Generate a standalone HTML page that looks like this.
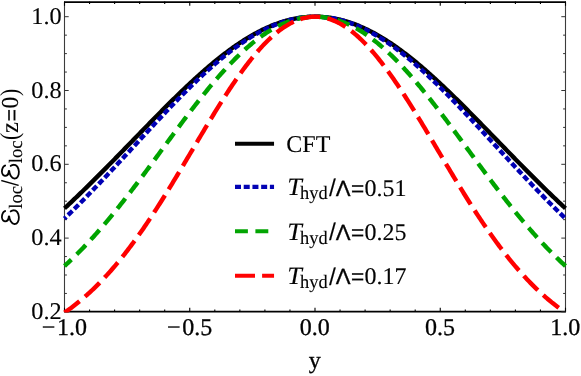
<!DOCTYPE html>
<html><head><meta charset="utf-8"><title>plot</title>
<style>
html,body{margin:0;padding:0;background:#fff;}
body{width:581px;height:376px;overflow:hidden;}
svg{display:block;}
text{font-family:"Liberation Serif",serif;font-size:24px;fill:#000;text-rendering:geometricPrecision;stroke:#000;stroke-width:0.12px;}
.sans{font-family:"Liberation Sans",sans-serif;font-size:22px;stroke-width:0.3px;}
.sub{font-size:19px;}
.it{font-style:italic;}
</style></head><body>
<svg width="581" height="376" viewBox="0 0 581 376">
<rect width="581" height="376" fill="#fff"/>
<defs><clipPath id="cp"><rect x="62.3" y="1.6" width="505.4" height="310.9"/></clipPath></defs>
<!-- frame -->
<g stroke="#000" stroke-width="1.75" fill="none">
<line x1="64.0" x2="566.0" y1="2.0500000000000003" y2="2.0500000000000003"/>
<line x1="64.0" x2="566.0" y1="311.5" y2="311.5"/>
</g>
<g stroke="#3c3c3c" stroke-width="1.1" fill="none">
<line x1="64.5" x2="64.5" y1="1.6" y2="311.9"/>
<line x1="565.5" x2="565.5" y1="1.6" y2="311.9"/>
</g>
<g stroke="#000" stroke-width="1.1">
<line x1="64.50" x2="64.50" y1="311.9" y2="307.7"/>
<line x1="64.50" x2="64.50" y1="1.6" y2="5.800000000000001"/>
<line x1="89.55" x2="89.55" y1="311.9" y2="309.5"/>
<line x1="89.55" x2="89.55" y1="1.6" y2="4.0"/>
<line x1="114.60" x2="114.60" y1="311.9" y2="309.5"/>
<line x1="114.60" x2="114.60" y1="1.6" y2="4.0"/>
<line x1="139.65" x2="139.65" y1="311.9" y2="309.5"/>
<line x1="139.65" x2="139.65" y1="1.6" y2="4.0"/>
<line x1="164.70" x2="164.70" y1="311.9" y2="309.5"/>
<line x1="164.70" x2="164.70" y1="1.6" y2="4.0"/>
<line x1="189.75" x2="189.75" y1="311.9" y2="307.7"/>
<line x1="189.75" x2="189.75" y1="1.6" y2="5.800000000000001"/>
<line x1="214.80" x2="214.80" y1="311.9" y2="309.5"/>
<line x1="214.80" x2="214.80" y1="1.6" y2="4.0"/>
<line x1="239.85" x2="239.85" y1="311.9" y2="309.5"/>
<line x1="239.85" x2="239.85" y1="1.6" y2="4.0"/>
<line x1="264.90" x2="264.90" y1="311.9" y2="309.5"/>
<line x1="264.90" x2="264.90" y1="1.6" y2="4.0"/>
<line x1="289.95" x2="289.95" y1="311.9" y2="309.5"/>
<line x1="289.95" x2="289.95" y1="1.6" y2="4.0"/>
<line x1="315.00" x2="315.00" y1="311.9" y2="307.7"/>
<line x1="315.00" x2="315.00" y1="1.6" y2="5.800000000000001"/>
<line x1="340.05" x2="340.05" y1="311.9" y2="309.5"/>
<line x1="340.05" x2="340.05" y1="1.6" y2="4.0"/>
<line x1="365.10" x2="365.10" y1="311.9" y2="309.5"/>
<line x1="365.10" x2="365.10" y1="1.6" y2="4.0"/>
<line x1="390.15" x2="390.15" y1="311.9" y2="309.5"/>
<line x1="390.15" x2="390.15" y1="1.6" y2="4.0"/>
<line x1="415.20" x2="415.20" y1="311.9" y2="309.5"/>
<line x1="415.20" x2="415.20" y1="1.6" y2="4.0"/>
<line x1="440.25" x2="440.25" y1="311.9" y2="307.7"/>
<line x1="440.25" x2="440.25" y1="1.6" y2="5.800000000000001"/>
<line x1="465.30" x2="465.30" y1="311.9" y2="309.5"/>
<line x1="465.30" x2="465.30" y1="1.6" y2="4.0"/>
<line x1="490.35" x2="490.35" y1="311.9" y2="309.5"/>
<line x1="490.35" x2="490.35" y1="1.6" y2="4.0"/>
<line x1="515.40" x2="515.40" y1="311.9" y2="309.5"/>
<line x1="515.40" x2="515.40" y1="1.6" y2="4.0"/>
<line x1="540.45" x2="540.45" y1="311.9" y2="309.5"/>
<line x1="540.45" x2="540.45" y1="1.6" y2="4.0"/>
<line x1="565.50" x2="565.50" y1="311.9" y2="307.7"/>
<line x1="565.50" x2="565.50" y1="1.6" y2="5.800000000000001"/>
</g>
<g stroke="#333" stroke-width="1">
<line y1="311.90" y2="311.90" x1="64.5" x2="68.7"/>
<line y1="311.90" y2="311.90" x1="565.5" x2="561.3"/>
<line y1="293.45" y2="293.45" x1="64.5" x2="66.9"/>
<line y1="293.45" y2="293.45" x1="565.5" x2="563.1"/>
<line y1="275.00" y2="275.00" x1="64.5" x2="66.9"/>
<line y1="275.00" y2="275.00" x1="565.5" x2="563.1"/>
<line y1="256.55" y2="256.55" x1="64.5" x2="66.9"/>
<line y1="256.55" y2="256.55" x1="565.5" x2="563.1"/>
<line y1="238.10" y2="238.10" x1="64.5" x2="68.7"/>
<line y1="238.10" y2="238.10" x1="565.5" x2="561.3"/>
<line y1="219.65" y2="219.65" x1="64.5" x2="66.9"/>
<line y1="219.65" y2="219.65" x1="565.5" x2="563.1"/>
<line y1="201.20" y2="201.20" x1="64.5" x2="66.9"/>
<line y1="201.20" y2="201.20" x1="565.5" x2="563.1"/>
<line y1="182.75" y2="182.75" x1="64.5" x2="66.9"/>
<line y1="182.75" y2="182.75" x1="565.5" x2="563.1"/>
<line y1="164.30" y2="164.30" x1="64.5" x2="68.7"/>
<line y1="164.30" y2="164.30" x1="565.5" x2="561.3"/>
<line y1="145.85" y2="145.85" x1="64.5" x2="66.9"/>
<line y1="145.85" y2="145.85" x1="565.5" x2="563.1"/>
<line y1="127.40" y2="127.40" x1="64.5" x2="66.9"/>
<line y1="127.40" y2="127.40" x1="565.5" x2="563.1"/>
<line y1="108.95" y2="108.95" x1="64.5" x2="66.9"/>
<line y1="108.95" y2="108.95" x1="565.5" x2="563.1"/>
<line y1="90.50" y2="90.50" x1="64.5" x2="68.7"/>
<line y1="90.50" y2="90.50" x1="565.5" x2="561.3"/>
<line y1="72.05" y2="72.05" x1="64.5" x2="66.9"/>
<line y1="72.05" y2="72.05" x1="565.5" x2="563.1"/>
<line y1="53.60" y2="53.60" x1="64.5" x2="66.9"/>
<line y1="53.60" y2="53.60" x1="565.5" x2="563.1"/>
<line y1="35.15" y2="35.15" x1="64.5" x2="66.9"/>
<line y1="35.15" y2="35.15" x1="565.5" x2="563.1"/>
<line y1="16.70" y2="16.70" x1="64.5" x2="68.7"/>
<line y1="16.70" y2="16.70" x1="565.5" x2="561.3"/>
</g>
<g clip-path="url(#cp)" fill="none" stroke-width="4.4" stroke-linejoin="round">
<path d="M64.50,208.40 L65.75,207.24 L67.00,206.06 L68.26,204.89 L69.51,203.71 L70.76,202.53 L72.02,201.35 L73.27,200.16 L74.52,198.96 L75.77,197.77 L77.03,196.57 L78.28,195.36 L79.53,194.15 L80.78,192.94 L82.04,191.73 L83.29,190.51 L84.54,189.29 L85.79,188.07 L87.04,186.84 L88.30,185.61 L89.55,184.38 L90.80,183.14 L92.05,181.90 L93.31,180.66 L94.56,179.41 L95.81,178.17 L97.06,176.92 L98.32,175.66 L99.57,174.41 L100.82,173.15 L102.08,171.89 L103.33,170.63 L104.58,169.36 L105.83,168.10 L107.09,166.83 L108.34,165.56 L109.59,164.29 L110.84,163.01 L112.09,161.74 L113.35,160.46 L114.60,159.18 L115.85,157.90 L117.10,156.62 L118.36,155.33 L119.61,154.05 L120.86,152.76 L122.11,151.48 L123.37,150.19 L124.62,148.90 L125.87,147.61 L127.12,146.33 L128.38,145.04 L129.63,143.75 L130.88,142.45 L132.13,141.16 L133.39,139.87 L134.64,138.58 L135.89,137.29 L137.15,136.00 L138.40,134.71 L139.65,133.42 L140.90,132.13 L142.16,130.84 L143.41,129.56 L144.66,128.27 L145.91,126.98 L147.17,125.70 L148.42,124.42 L149.67,123.13 L150.92,121.85 L152.18,120.57 L153.43,119.30 L154.68,118.02 L155.93,116.75 L157.19,115.48 L158.44,114.21 L159.69,112.94 L160.94,111.68 L162.19,110.41 L163.45,109.15 L164.70,107.90 L165.95,106.65 L167.21,105.39 L168.46,104.15 L169.71,102.90 L170.96,101.66 L172.21,100.43 L173.47,99.19 L174.72,97.97 L175.97,96.74 L177.22,95.52 L178.48,94.30 L179.73,93.09 L180.98,91.88 L182.24,90.68 L183.49,89.48 L184.74,88.29 L185.99,87.10 L187.25,85.92 L188.50,84.74 L189.75,83.57 L191.00,82.41 L192.25,81.25 L193.51,80.09 L194.76,78.94 L196.01,77.80 L197.27,76.67 L198.52,75.54 L199.77,74.42 L201.02,73.30 L202.28,72.19 L203.53,71.09 L204.78,70.00 L206.03,68.91 L207.29,67.83 L208.54,66.76 L209.79,65.69 L211.04,64.64 L212.29,63.59 L213.55,62.55 L214.80,61.52 L216.05,60.50 L217.31,59.48 L218.56,58.48 L219.81,57.48 L221.06,56.49 L222.31,55.52 L223.57,54.55 L224.82,53.59 L226.07,52.64 L227.33,51.70 L228.58,50.77 L229.83,49.85 L231.08,48.94 L232.34,48.04 L233.59,47.15 L234.84,46.27 L236.09,45.40 L237.35,44.55 L238.60,43.70 L239.85,42.86 L241.10,42.04 L242.35,41.23 L243.61,40.42 L244.86,39.63 L246.11,38.85 L247.37,38.09 L248.62,37.33 L249.87,36.59 L251.12,35.86 L252.38,35.14 L253.63,34.43 L254.88,33.74 L256.13,33.06 L257.38,32.39 L258.64,31.73 L259.89,31.09 L261.14,30.46 L262.39,29.84 L263.65,29.24 L264.90,28.65 L266.15,28.07 L267.40,27.51 L268.66,26.95 L269.91,26.42 L271.16,25.89 L272.42,25.38 L273.67,24.89 L274.92,24.41 L276.17,23.94 L277.42,23.49 L278.68,23.05 L279.93,22.62 L281.18,22.21 L282.44,21.81 L283.69,21.43 L284.94,21.06 L286.19,20.71 L287.44,20.37 L288.70,20.05 L289.95,19.74 L291.20,19.44 L292.46,19.16 L293.71,18.90 L294.96,18.65 L296.21,18.41 L297.47,18.19 L298.72,17.99 L299.97,17.80 L301.22,17.62 L302.48,17.46 L303.73,17.32 L304.98,17.19 L306.23,17.07 L307.49,16.97 L308.74,16.89 L309.99,16.82 L311.24,16.77 L312.50,16.73 L313.75,16.71 L315.00,16.70 L316.25,16.71 L317.50,16.73 L318.76,16.77 L320.01,16.82 L321.26,16.89 L322.51,16.97 L323.77,17.07 L325.02,17.19 L326.27,17.32 L327.53,17.46 L328.78,17.62 L330.03,17.80 L331.28,17.99 L332.54,18.19 L333.79,18.41 L335.04,18.65 L336.29,18.90 L337.55,19.16 L338.80,19.44 L340.05,19.74 L341.30,20.05 L342.56,20.37 L343.81,20.71 L345.06,21.06 L346.31,21.43 L347.57,21.81 L348.82,22.21 L350.07,22.62 L351.32,23.05 L352.58,23.49 L353.83,23.94 L355.08,24.41 L356.33,24.89 L357.58,25.38 L358.84,25.89 L360.09,26.42 L361.34,26.95 L362.59,27.51 L363.85,28.07 L365.10,28.65 L366.35,29.24 L367.61,29.84 L368.86,30.46 L370.11,31.09 L371.36,31.73 L372.62,32.39 L373.87,33.06 L375.12,33.74 L376.37,34.43 L377.62,35.14 L378.88,35.86 L380.13,36.59 L381.38,37.33 L382.63,38.09 L383.89,38.85 L385.14,39.63 L386.39,40.42 L387.64,41.23 L388.90,42.04 L390.15,42.86 L391.40,43.70 L392.66,44.55 L393.91,45.40 L395.16,46.27 L396.41,47.15 L397.67,48.04 L398.92,48.94 L400.17,49.85 L401.42,50.77 L402.68,51.70 L403.93,52.64 L405.18,53.59 L406.43,54.55 L407.69,55.52 L408.94,56.49 L410.19,57.48 L411.44,58.48 L412.70,59.48 L413.95,60.50 L415.20,61.52 L416.45,62.55 L417.70,63.59 L418.96,64.64 L420.21,65.69 L421.46,66.76 L422.71,67.83 L423.97,68.91 L425.22,70.00 L426.47,71.09 L427.72,72.19 L428.98,73.30 L430.23,74.42 L431.48,75.54 L432.74,76.67 L433.99,77.80 L435.24,78.94 L436.49,80.09 L437.75,81.25 L439.00,82.41 L440.25,83.57 L441.50,84.74 L442.75,85.92 L444.01,87.10 L445.26,88.29 L446.51,89.48 L447.76,90.68 L449.02,91.88 L450.27,93.09 L451.52,94.30 L452.78,95.52 L454.03,96.74 L455.28,97.97 L456.53,99.19 L457.79,100.43 L459.04,101.66 L460.29,102.90 L461.54,104.15 L462.80,105.39 L464.05,106.65 L465.30,107.90 L466.55,109.15 L467.81,110.41 L469.06,111.68 L470.31,112.94 L471.56,114.21 L472.82,115.48 L474.07,116.75 L475.32,118.02 L476.57,119.30 L477.83,120.57 L479.08,121.85 L480.33,123.13 L481.58,124.42 L482.83,125.70 L484.09,126.98 L485.34,128.27 L486.59,129.56 L487.84,130.84 L489.10,132.13 L490.35,133.42 L491.60,134.71 L492.86,136.00 L494.11,137.29 L495.36,138.58 L496.61,139.87 L497.87,141.16 L499.12,142.45 L500.37,143.75 L501.62,145.04 L502.88,146.33 L504.13,147.61 L505.38,148.90 L506.63,150.19 L507.88,151.48 L509.14,152.76 L510.39,154.05 L511.64,155.33 L512.89,156.62 L514.15,157.90 L515.40,159.18 L516.65,160.46 L517.90,161.74 L519.16,163.01 L520.41,164.29 L521.66,165.56 L522.91,166.83 L524.17,168.10 L525.42,169.36 L526.67,170.63 L527.92,171.89 L529.18,173.15 L530.43,174.41 L531.68,175.66 L532.93,176.92 L534.19,178.17 L535.44,179.41 L536.69,180.66 L537.95,181.90 L539.20,183.14 L540.45,184.38 L541.70,185.61 L542.96,186.84 L544.21,188.07 L545.46,189.29 L546.71,190.51 L547.96,191.73 L549.22,192.94 L550.47,194.15 L551.72,195.36 L552.97,196.57 L554.23,197.77 L555.48,198.96 L556.73,200.16 L557.99,201.35 L559.24,202.53 L560.49,203.71 L561.74,204.89 L563.00,206.06 L564.25,207.24 L565.50,208.40" stroke="#000"/>
<path d="M64.50,218.56 L65.75,217.35 L67.00,216.13 L68.26,214.91 L69.51,213.69 L70.76,212.46 L72.02,211.23 L73.27,209.99 L74.52,208.75 L75.77,207.50 L77.03,206.25 L78.28,205.00 L79.53,203.74 L80.78,202.48 L82.04,201.21 L83.29,199.94 L84.54,198.67 L85.79,197.39 L87.04,196.11 L88.30,194.82 L89.55,193.53 L90.80,192.24 L92.05,190.95 L93.31,189.65 L94.56,188.35 L95.81,187.04 L97.06,185.73 L98.32,184.42 L99.57,183.11 L100.82,181.79 L102.08,180.47 L103.33,179.15 L104.58,177.83 L105.83,176.50 L107.09,175.17 L108.34,173.84 L109.59,172.50 L110.84,171.17 L112.09,169.83 L113.35,168.49 L114.60,167.15 L115.85,165.80 L117.10,164.46 L118.36,163.11 L119.61,161.76 L120.86,160.41 L122.11,159.06 L123.37,157.71 L124.62,156.35 L125.87,155.00 L127.12,153.64 L128.38,152.29 L129.63,150.93 L130.88,149.57 L132.13,148.22 L133.39,146.86 L134.64,145.50 L135.89,144.14 L137.15,142.78 L138.40,141.43 L139.65,140.07 L140.90,138.71 L142.16,137.35 L143.41,136.00 L144.66,134.64 L145.91,133.29 L147.17,131.93 L148.42,130.58 L149.67,129.23 L150.92,127.88 L152.18,126.53 L153.43,125.18 L154.68,123.84 L155.93,122.49 L157.19,121.15 L158.44,119.81 L159.69,118.48 L160.94,117.14 L162.19,115.81 L163.45,114.48 L164.70,113.16 L165.95,111.83 L167.21,110.51 L168.46,109.20 L169.71,107.88 L170.96,106.57 L172.21,105.27 L173.47,103.97 L174.72,102.67 L175.97,101.37 L177.22,100.09 L178.48,98.80 L179.73,97.52 L180.98,96.24 L182.24,94.97 L183.49,93.71 L184.74,92.45 L185.99,91.19 L187.25,89.94 L188.50,88.70 L189.75,87.46 L191.00,86.23 L192.25,85.00 L193.51,83.78 L194.76,82.57 L196.01,81.36 L197.27,80.16 L198.52,78.96 L199.77,77.78 L201.02,76.60 L202.28,75.43 L203.53,74.26 L204.78,73.10 L206.03,71.95 L207.29,70.81 L208.54,69.68 L209.79,68.55 L211.04,67.44 L212.29,66.33 L213.55,65.23 L214.80,64.14 L216.05,63.06 L217.31,61.98 L218.56,60.92 L219.81,59.87 L221.06,58.82 L222.31,57.79 L223.57,56.76 L224.82,55.75 L226.07,54.74 L227.33,53.75 L228.58,52.76 L229.83,51.79 L231.08,50.83 L232.34,49.87 L233.59,48.93 L234.84,48.00 L236.09,47.08 L237.35,46.18 L238.60,45.28 L239.85,44.39 L241.10,43.52 L242.35,42.66 L243.61,41.81 L244.86,40.98 L246.11,40.15 L247.37,39.34 L248.62,38.54 L249.87,37.75 L251.12,36.98 L252.38,36.22 L253.63,35.47 L254.88,34.74 L256.13,34.02 L257.38,33.31 L258.64,32.61 L259.89,31.93 L261.14,31.27 L262.39,30.61 L263.65,29.97 L264.90,29.35 L266.15,28.74 L267.40,28.14 L268.66,27.56 L269.91,26.99 L271.16,26.43 L272.42,25.89 L273.67,25.37 L274.92,24.86 L276.17,24.36 L277.42,23.88 L278.68,23.42 L279.93,22.97 L281.18,22.53 L282.44,22.11 L283.69,21.71 L284.94,21.32 L286.19,20.94 L287.44,20.59 L288.70,20.24 L289.95,19.91 L291.20,19.60 L292.46,19.31 L293.71,19.03 L294.96,18.76 L296.21,18.51 L297.47,18.28 L298.72,18.06 L299.97,17.86 L301.22,17.68 L302.48,17.51 L303.73,17.35 L304.98,17.22 L306.23,17.10 L307.49,16.99 L308.74,16.90 L309.99,16.83 L311.24,16.77 L312.50,16.73 L313.75,16.71 L315.00,16.70 L316.25,16.71 L317.50,16.73 L318.76,16.77 L320.01,16.83 L321.26,16.90 L322.51,16.99 L323.77,17.10 L325.02,17.22 L326.27,17.35 L327.53,17.51 L328.78,17.68 L330.03,17.86 L331.28,18.06 L332.54,18.28 L333.79,18.51 L335.04,18.76 L336.29,19.03 L337.55,19.31 L338.80,19.60 L340.05,19.91 L341.30,20.24 L342.56,20.59 L343.81,20.94 L345.06,21.32 L346.31,21.71 L347.57,22.11 L348.82,22.53 L350.07,22.97 L351.32,23.42 L352.58,23.88 L353.83,24.36 L355.08,24.86 L356.33,25.37 L357.58,25.89 L358.84,26.43 L360.09,26.99 L361.34,27.56 L362.59,28.14 L363.85,28.74 L365.10,29.35 L366.35,29.97 L367.61,30.61 L368.86,31.27 L370.11,31.93 L371.36,32.61 L372.62,33.31 L373.87,34.02 L375.12,34.74 L376.37,35.47 L377.62,36.22 L378.88,36.98 L380.13,37.75 L381.38,38.54 L382.63,39.34 L383.89,40.15 L385.14,40.98 L386.39,41.81 L387.64,42.66 L388.90,43.52 L390.15,44.39 L391.40,45.28 L392.66,46.18 L393.91,47.08 L395.16,48.00 L396.41,48.93 L397.67,49.87 L398.92,50.83 L400.17,51.79 L401.42,52.76 L402.68,53.75 L403.93,54.74 L405.18,55.75 L406.43,56.76 L407.69,57.79 L408.94,58.82 L410.19,59.87 L411.44,60.92 L412.70,61.98 L413.95,63.06 L415.20,64.14 L416.45,65.23 L417.70,66.33 L418.96,67.44 L420.21,68.55 L421.46,69.68 L422.71,70.81 L423.97,71.95 L425.22,73.10 L426.47,74.26 L427.72,75.43 L428.98,76.60 L430.23,77.78 L431.48,78.96 L432.74,80.16 L433.99,81.36 L435.24,82.57 L436.49,83.78 L437.75,85.00 L439.00,86.23 L440.25,87.46 L441.50,88.70 L442.75,89.94 L444.01,91.19 L445.26,92.45 L446.51,93.71 L447.76,94.97 L449.02,96.24 L450.27,97.52 L451.52,98.80 L452.78,100.09 L454.03,101.37 L455.28,102.67 L456.53,103.97 L457.79,105.27 L459.04,106.57 L460.29,107.88 L461.54,109.20 L462.80,110.51 L464.05,111.83 L465.30,113.16 L466.55,114.48 L467.81,115.81 L469.06,117.14 L470.31,118.48 L471.56,119.81 L472.82,121.15 L474.07,122.49 L475.32,123.84 L476.57,125.18 L477.83,126.53 L479.08,127.88 L480.33,129.23 L481.58,130.58 L482.83,131.93 L484.09,133.29 L485.34,134.64 L486.59,136.00 L487.84,137.35 L489.10,138.71 L490.35,140.07 L491.60,141.43 L492.86,142.78 L494.11,144.14 L495.36,145.50 L496.61,146.86 L497.87,148.22 L499.12,149.57 L500.37,150.93 L501.62,152.29 L502.88,153.64 L504.13,155.00 L505.38,156.35 L506.63,157.71 L507.88,159.06 L509.14,160.41 L510.39,161.76 L511.64,163.11 L512.89,164.46 L514.15,165.80 L515.40,167.15 L516.65,168.49 L517.90,169.83 L519.16,171.17 L520.41,172.50 L521.66,173.84 L522.91,175.17 L524.17,176.50 L525.42,177.83 L526.67,179.15 L527.92,180.47 L529.18,181.79 L530.43,183.11 L531.68,184.42 L532.93,185.73 L534.19,187.04 L535.44,188.35 L536.69,189.65 L537.95,190.95 L539.20,192.24 L540.45,193.53 L541.70,194.82 L542.96,196.11 L544.21,197.39 L545.46,198.67 L546.71,199.94 L547.96,201.21 L549.22,202.48 L550.47,203.74 L551.72,205.00 L552.97,206.25 L554.23,207.50 L555.48,208.75 L556.73,209.99 L557.99,211.23 L559.24,212.46 L560.49,213.69 L561.74,214.91 L563.00,216.13 L564.25,217.35 L565.50,218.56" stroke="#0000b4" stroke-dasharray="6 2.72" stroke-dashoffset="3.7"/>
<path d="M64.50,266.00 L65.75,264.86 L67.00,263.70 L68.26,262.53 L69.51,261.35 L70.76,260.16 L72.02,258.96 L73.27,257.75 L74.52,256.53 L75.77,255.30 L77.03,254.05 L78.28,252.80 L79.53,251.53 L80.78,250.26 L82.04,248.97 L83.29,247.67 L84.54,246.36 L85.79,245.05 L87.04,243.72 L88.30,242.38 L89.55,241.03 L90.80,239.67 L92.05,238.30 L93.31,236.92 L94.56,235.53 L95.81,234.13 L97.06,232.72 L98.32,231.30 L99.57,229.87 L100.82,228.43 L102.08,226.98 L103.33,225.53 L104.58,224.06 L105.83,222.58 L107.09,221.10 L108.34,219.60 L109.59,218.10 L110.84,216.59 L112.09,215.07 L113.35,213.54 L114.60,212.01 L115.85,210.46 L117.10,208.91 L118.36,207.35 L119.61,205.79 L120.86,204.21 L122.11,202.63 L123.37,201.04 L124.62,199.45 L125.87,197.84 L127.12,196.23 L128.38,194.62 L129.63,193.00 L130.88,191.37 L132.13,189.74 L133.39,188.10 L134.64,186.45 L135.89,184.80 L137.15,183.15 L138.40,181.49 L139.65,179.83 L140.90,178.16 L142.16,176.48 L143.41,174.81 L144.66,173.13 L145.91,171.44 L147.17,169.76 L148.42,168.07 L149.67,166.37 L150.92,164.68 L152.18,162.98 L153.43,161.28 L154.68,159.58 L155.93,157.88 L157.19,156.17 L158.44,154.47 L159.69,152.76 L160.94,151.06 L162.19,149.35 L163.45,147.64 L164.70,145.94 L165.95,144.23 L167.21,142.53 L168.46,140.82 L169.71,139.12 L170.96,137.42 L172.21,135.72 L173.47,134.02 L174.72,132.33 L175.97,130.63 L177.22,128.95 L178.48,127.26 L179.73,125.58 L180.98,123.90 L182.24,122.22 L183.49,120.55 L184.74,118.89 L185.99,117.23 L187.25,115.57 L188.50,113.92 L189.75,112.28 L191.00,110.64 L192.25,109.01 L193.51,107.38 L194.76,105.76 L196.01,104.15 L197.27,102.55 L198.52,100.95 L199.77,99.36 L201.02,97.78 L202.28,96.21 L203.53,94.65 L204.78,93.09 L206.03,91.55 L207.29,90.01 L208.54,88.48 L209.79,86.97 L211.04,85.46 L212.29,83.97 L213.55,82.49 L214.80,81.01 L216.05,79.55 L217.31,78.10 L218.56,76.66 L219.81,75.24 L221.06,73.83 L222.31,72.42 L223.57,71.04 L224.82,69.66 L226.07,68.30 L227.33,66.95 L228.58,65.62 L229.83,64.30 L231.08,62.99 L232.34,61.70 L233.59,60.42 L234.84,59.16 L236.09,57.91 L237.35,56.68 L238.60,55.46 L239.85,54.26 L241.10,53.08 L242.35,51.91 L243.61,50.76 L244.86,49.62 L246.11,48.50 L247.37,47.40 L248.62,46.32 L249.87,45.25 L251.12,44.20 L252.38,43.16 L253.63,42.15 L254.88,41.15 L256.13,40.17 L257.38,39.21 L258.64,38.27 L259.89,37.34 L261.14,36.44 L262.39,35.55 L263.65,34.68 L264.90,33.83 L266.15,33.00 L267.40,32.19 L268.66,31.40 L269.91,30.63 L271.16,29.88 L272.42,29.15 L273.67,28.44 L274.92,27.75 L276.17,27.07 L277.42,26.42 L278.68,25.79 L279.93,25.18 L281.18,24.59 L282.44,24.02 L283.69,23.48 L284.94,22.95 L286.19,22.44 L287.44,21.96 L288.70,21.49 L289.95,21.05 L291.20,20.63 L292.46,20.23 L293.71,19.85 L294.96,19.49 L296.21,19.15 L297.47,18.84 L298.72,18.54 L299.97,18.27 L301.22,18.02 L302.48,17.79 L303.73,17.58 L304.98,17.40 L306.23,17.24 L307.49,17.09 L308.74,16.97 L309.99,16.87 L311.24,16.80 L312.50,16.74 L313.75,16.71 L315.00,16.70 L316.25,16.71 L317.50,16.74 L318.76,16.80 L320.01,16.87 L321.26,16.97 L322.51,17.09 L323.77,17.24 L325.02,17.40 L326.27,17.58 L327.53,17.79 L328.78,18.02 L330.03,18.27 L331.28,18.54 L332.54,18.84 L333.79,19.15 L335.04,19.49 L336.29,19.85 L337.55,20.23 L338.80,20.63 L340.05,21.05 L341.30,21.49 L342.56,21.96 L343.81,22.44 L345.06,22.95 L346.31,23.48 L347.57,24.02 L348.82,24.59 L350.07,25.18 L351.32,25.79 L352.58,26.42 L353.83,27.07 L355.08,27.75 L356.33,28.44 L357.58,29.15 L358.84,29.88 L360.09,30.63 L361.34,31.40 L362.59,32.19 L363.85,33.00 L365.10,33.83 L366.35,34.68 L367.61,35.55 L368.86,36.44 L370.11,37.34 L371.36,38.27 L372.62,39.21 L373.87,40.17 L375.12,41.15 L376.37,42.15 L377.62,43.16 L378.88,44.20 L380.13,45.25 L381.38,46.32 L382.63,47.40 L383.89,48.50 L385.14,49.62 L386.39,50.76 L387.64,51.91 L388.90,53.08 L390.15,54.26 L391.40,55.46 L392.66,56.68 L393.91,57.91 L395.16,59.16 L396.41,60.42 L397.67,61.70 L398.92,62.99 L400.17,64.30 L401.42,65.62 L402.68,66.95 L403.93,68.30 L405.18,69.66 L406.43,71.04 L407.69,72.42 L408.94,73.83 L410.19,75.24 L411.44,76.66 L412.70,78.10 L413.95,79.55 L415.20,81.01 L416.45,82.49 L417.70,83.97 L418.96,85.46 L420.21,86.97 L421.46,88.48 L422.71,90.01 L423.97,91.55 L425.22,93.09 L426.47,94.65 L427.72,96.21 L428.98,97.78 L430.23,99.36 L431.48,100.95 L432.74,102.55 L433.99,104.15 L435.24,105.76 L436.49,107.38 L437.75,109.01 L439.00,110.64 L440.25,112.28 L441.50,113.92 L442.75,115.57 L444.01,117.23 L445.26,118.89 L446.51,120.55 L447.76,122.22 L449.02,123.90 L450.27,125.58 L451.52,127.26 L452.78,128.95 L454.03,130.63 L455.28,132.33 L456.53,134.02 L457.79,135.72 L459.04,137.42 L460.29,139.12 L461.54,140.82 L462.80,142.53 L464.05,144.23 L465.30,145.94 L466.55,147.64 L467.81,149.35 L469.06,151.06 L470.31,152.76 L471.56,154.47 L472.82,156.17 L474.07,157.88 L475.32,159.58 L476.57,161.28 L477.83,162.98 L479.08,164.68 L480.33,166.37 L481.58,168.07 L482.83,169.76 L484.09,171.44 L485.34,173.13 L486.59,174.81 L487.84,176.48 L489.10,178.16 L490.35,179.83 L491.60,181.49 L492.86,183.15 L494.11,184.80 L495.36,186.45 L496.61,188.10 L497.87,189.74 L499.12,191.37 L500.37,193.00 L501.62,194.62 L502.88,196.23 L504.13,197.84 L505.38,199.45 L506.63,201.04 L507.88,202.63 L509.14,204.21 L510.39,205.79 L511.64,207.35 L512.89,208.91 L514.15,210.46 L515.40,212.01 L516.65,213.54 L517.90,215.07 L519.16,216.59 L520.41,218.10 L521.66,219.60 L522.91,221.10 L524.17,222.58 L525.42,224.06 L526.67,225.53 L527.92,226.98 L529.18,228.43 L530.43,229.87 L531.68,231.30 L532.93,232.72 L534.19,234.13 L535.44,235.53 L536.69,236.92 L537.95,238.30 L539.20,239.67 L540.45,241.03 L541.70,242.38 L542.96,243.72 L544.21,245.05 L545.46,246.36 L546.71,247.67 L547.96,248.97 L549.22,250.26 L550.47,251.53 L551.72,252.80 L552.97,254.05 L554.23,255.30 L555.48,256.53 L556.73,257.75 L557.99,258.96 L559.24,260.16 L560.49,261.35 L561.74,262.53 L563.00,263.70 L564.25,264.86 L565.50,266.00" stroke="#00a400" stroke-dasharray="12.9 7.5" stroke-dashoffset="3.5"/>
<path d="M64.50,312.60 L65.75,311.74 L67.00,310.86 L68.26,309.97 L69.51,309.07 L70.76,308.15 L72.02,307.21 L73.27,306.27 L74.52,305.30 L75.77,304.33 L77.03,303.33 L78.28,302.33 L79.53,301.30 L80.78,300.27 L82.04,299.21 L83.29,298.15 L84.54,297.06 L85.79,295.96 L87.04,294.85 L88.30,293.72 L89.55,292.58 L90.80,291.42 L92.05,290.24 L93.31,289.05 L94.56,287.84 L95.81,286.62 L97.06,285.38 L98.32,284.12 L99.57,282.85 L100.82,281.56 L102.08,280.26 L103.33,278.94 L104.58,277.60 L105.83,276.25 L107.09,274.88 L108.34,273.50 L109.59,272.10 L110.84,270.68 L112.09,269.25 L113.35,267.80 L114.60,266.34 L115.85,264.86 L117.10,263.36 L118.36,261.85 L119.61,260.32 L120.86,258.78 L122.11,257.22 L123.37,255.64 L124.62,254.05 L125.87,252.44 L127.12,250.82 L128.38,249.18 L129.63,247.53 L130.88,245.86 L132.13,244.18 L133.39,242.48 L134.64,240.77 L135.89,239.04 L137.15,237.30 L138.40,235.55 L139.65,233.78 L140.90,231.99 L142.16,230.20 L143.41,228.38 L144.66,226.56 L145.91,224.72 L147.17,222.87 L148.42,221.01 L149.67,219.13 L150.92,217.24 L152.18,215.34 L153.43,213.43 L154.68,211.51 L155.93,209.57 L157.19,207.63 L158.44,205.67 L159.69,203.70 L160.94,201.73 L162.19,199.74 L163.45,197.74 L164.70,195.74 L165.95,193.72 L167.21,191.70 L168.46,189.67 L169.71,187.63 L170.96,185.58 L172.21,183.53 L173.47,181.47 L174.72,179.40 L175.97,177.33 L177.22,175.25 L178.48,173.17 L179.73,171.08 L180.98,168.98 L182.24,166.89 L183.49,164.79 L184.74,162.68 L185.99,160.58 L187.25,158.47 L188.50,156.36 L189.75,154.25 L191.00,152.13 L192.25,150.02 L193.51,147.91 L194.76,145.79 L196.01,143.68 L197.27,141.57 L198.52,139.46 L199.77,137.36 L201.02,135.25 L202.28,133.15 L203.53,131.06 L204.78,128.97 L206.03,126.88 L207.29,124.80 L208.54,122.72 L209.79,120.65 L211.04,118.59 L212.29,116.54 L213.55,114.49 L214.80,112.45 L216.05,110.42 L217.31,108.40 L218.56,106.39 L219.81,104.39 L221.06,102.40 L222.31,100.42 L223.57,98.46 L224.82,96.51 L226.07,94.57 L227.33,92.64 L228.58,90.73 L229.83,88.83 L231.08,86.94 L232.34,85.08 L233.59,83.22 L234.84,81.39 L236.09,79.57 L237.35,77.77 L238.60,75.99 L239.85,74.22 L241.10,72.48 L242.35,70.75 L243.61,69.04 L244.86,67.36 L246.11,65.69 L247.37,64.05 L248.62,62.43 L249.87,60.82 L251.12,59.25 L252.38,57.69 L253.63,56.16 L254.88,54.65 L256.13,53.17 L257.38,51.71 L258.64,50.27 L259.89,48.87 L261.14,47.48 L262.39,46.13 L263.65,44.80 L264.90,43.49 L266.15,42.22 L267.40,40.97 L268.66,39.75 L269.91,38.56 L271.16,37.39 L272.42,36.26 L273.67,35.16 L274.92,34.08 L276.17,33.04 L277.42,32.02 L278.68,31.04 L279.93,30.08 L281.18,29.16 L282.44,28.27 L283.69,27.41 L284.94,26.58 L286.19,25.78 L287.44,25.02 L288.70,24.29 L289.95,23.59 L291.20,22.92 L292.46,22.29 L293.71,21.69 L294.96,21.12 L296.21,20.59 L297.47,20.09 L298.72,19.63 L299.97,19.19 L301.22,18.80 L302.48,18.43 L303.73,18.11 L304.98,17.81 L306.23,17.55 L307.49,17.33 L308.74,17.13 L309.99,16.98 L311.24,16.86 L312.50,16.77 L313.75,16.72 L315.00,16.70 L316.25,16.72 L317.50,16.77 L318.76,16.86 L320.01,16.98 L321.26,17.13 L322.51,17.33 L323.77,17.55 L325.02,17.81 L326.27,18.11 L327.53,18.43 L328.78,18.80 L330.03,19.19 L331.28,19.63 L332.54,20.09 L333.79,20.59 L335.04,21.12 L336.29,21.69 L337.55,22.29 L338.80,22.92 L340.05,23.59 L341.30,24.29 L342.56,25.02 L343.81,25.78 L345.06,26.58 L346.31,27.41 L347.57,28.27 L348.82,29.16 L350.07,30.08 L351.32,31.04 L352.58,32.02 L353.83,33.04 L355.08,34.08 L356.33,35.16 L357.58,36.26 L358.84,37.39 L360.09,38.56 L361.34,39.75 L362.59,40.97 L363.85,42.22 L365.10,43.49 L366.35,44.80 L367.61,46.13 L368.86,47.48 L370.11,48.87 L371.36,50.27 L372.62,51.71 L373.87,53.17 L375.12,54.65 L376.37,56.16 L377.62,57.69 L378.88,59.25 L380.13,60.82 L381.38,62.43 L382.63,64.05 L383.89,65.69 L385.14,67.36 L386.39,69.04 L387.64,70.75 L388.90,72.48 L390.15,74.22 L391.40,75.99 L392.66,77.77 L393.91,79.57 L395.16,81.39 L396.41,83.22 L397.67,85.08 L398.92,86.94 L400.17,88.83 L401.42,90.73 L402.68,92.64 L403.93,94.57 L405.18,96.51 L406.43,98.46 L407.69,100.42 L408.94,102.40 L410.19,104.39 L411.44,106.39 L412.70,108.40 L413.95,110.42 L415.20,112.45 L416.45,114.49 L417.70,116.54 L418.96,118.59 L420.21,120.65 L421.46,122.72 L422.71,124.80 L423.97,126.88 L425.22,128.97 L426.47,131.06 L427.72,133.15 L428.98,135.25 L430.23,137.36 L431.48,139.46 L432.74,141.57 L433.99,143.68 L435.24,145.79 L436.49,147.91 L437.75,150.02 L439.00,152.13 L440.25,154.25 L441.50,156.36 L442.75,158.47 L444.01,160.58 L445.26,162.68 L446.51,164.79 L447.76,166.89 L449.02,168.98 L450.27,171.08 L451.52,173.17 L452.78,175.25 L454.03,177.33 L455.28,179.40 L456.53,181.47 L457.79,183.53 L459.04,185.58 L460.29,187.63 L461.54,189.67 L462.80,191.70 L464.05,193.72 L465.30,195.74 L466.55,197.74 L467.81,199.74 L469.06,201.73 L470.31,203.70 L471.56,205.67 L472.82,207.63 L474.07,209.57 L475.32,211.51 L476.57,213.43 L477.83,215.34 L479.08,217.24 L480.33,219.13 L481.58,221.01 L482.83,222.87 L484.09,224.72 L485.34,226.56 L486.59,228.38 L487.84,230.20 L489.10,231.99 L490.35,233.78 L491.60,235.55 L492.86,237.30 L494.11,239.04 L495.36,240.77 L496.61,242.48 L497.87,244.18 L499.12,245.86 L500.37,247.53 L501.62,249.18 L502.88,250.82 L504.13,252.44 L505.38,254.05 L506.63,255.64 L507.88,257.22 L509.14,258.78 L510.39,260.32 L511.64,261.85 L512.89,263.36 L514.15,264.86 L515.40,266.34 L516.65,267.80 L517.90,269.25 L519.16,270.68 L520.41,272.10 L521.66,273.50 L522.91,274.88 L524.17,276.25 L525.42,277.60 L526.67,278.94 L527.92,280.26 L529.18,281.56 L530.43,282.85 L531.68,284.12 L532.93,285.38 L534.19,286.62 L535.44,287.84 L536.69,289.05 L537.95,290.24 L539.20,291.42 L540.45,292.58 L541.70,293.72 L542.96,294.85 L544.21,295.96 L545.46,297.06 L546.71,298.15 L547.96,299.21 L549.22,300.27 L550.47,301.30 L551.72,302.33 L552.97,303.33 L554.23,304.33 L555.48,305.30 L556.73,306.27 L557.99,307.21 L559.24,308.15 L560.49,309.07 L561.74,309.97 L563.00,310.86" stroke="#ff0000" stroke-dasharray="20.1 7.22" stroke-dashoffset="1.3"/>
</g>
<g id="txt" style="opacity:0.99">
<g>
<text x="64.30" y="335.4" text-anchor="middle" style="stroke-width:0.3px"><tspan>−</tspan><tspan dx="1.7">1.0</tspan></text>
<text x="189.55" y="335.4" text-anchor="middle" style="stroke-width:0.3px"><tspan>−</tspan><tspan dx="1.7">0.5</tspan></text>
<text x="314.80" y="335.4" text-anchor="middle" style="stroke-width:0.3px"><tspan>0.0</tspan></text>
<text x="440.05" y="335.4" text-anchor="middle" style="stroke-width:0.3px"><tspan>0.5</tspan></text>
<text x="565.30" y="335.4" text-anchor="middle" style="stroke-width:0.3px"><tspan>1.0</tspan></text>
<text x="61.7" y="23.70" text-anchor="end" textLength="30.4" lengthAdjust="spacingAndGlyphs">1.0</text>
<text x="61.7" y="97.50" text-anchor="end" textLength="30.4" lengthAdjust="spacingAndGlyphs">0.8</text>
<text x="61.7" y="171.30" text-anchor="end" textLength="30.4" lengthAdjust="spacingAndGlyphs">0.6</text>
<text x="61.7" y="245.10" text-anchor="end" textLength="30.4" lengthAdjust="spacingAndGlyphs">0.4</text>
<text x="61.7" y="318.90" text-anchor="end" textLength="30.4" lengthAdjust="spacingAndGlyphs">0.2</text>
</g>
<text x="314.8" y="367.9" text-anchor="middle" style="stroke-width:0.3px">y</text>
<!-- legend -->
<g fill="none" stroke-width="4.1">
<line x1="235" x2="274.05" y1="143.8" y2="143.8" stroke="#000"/>
<line x1="235" x2="274.05" y1="186.9" y2="186.9" stroke="#0000b4" stroke-dasharray="6 2.72"/>
<line x1="235" x2="274.05" y1="231.2" y2="231.2" stroke="#00a400" stroke-dasharray="12.9 7.5"/>
<line x1="235" x2="274.05" y1="275.8" y2="275.8" stroke="#ff0000" stroke-dasharray="20 7.1"/>
</g>
<text x="286.3" y="152.4" textLength="44" lengthAdjust="spacingAndGlyphs">CFT</text>
<g>
<text class="it" x="287.3" y="195.29999999999998" textLength="14.6" lengthAdjust="spacingAndGlyphs" style="font-size:25px">T</text>
<text class="sub" x="300.0" y="199.29999999999998" textLength="27.6" lengthAdjust="spacingAndGlyphs">hyd</text>
<text class="sans" x="328.9" y="196.2" textLength="6.8" lengthAdjust="spacingAndGlyphs" style="font-size:24px;stroke-width:0.1px">/</text>
<text class="sans" x="335.7" y="195.6" textLength="14.8" lengthAdjust="spacingAndGlyphs">Λ</text>
<text class="sans" x="350.9" y="195.6" textLength="13.2" lengthAdjust="spacingAndGlyphs">=</text>
<text x="364.6" y="195.6" textLength="42" lengthAdjust="spacingAndGlyphs">0.51</text>
</g>
<g>
<text class="it" x="287.3" y="239.5" textLength="14.6" lengthAdjust="spacingAndGlyphs" style="font-size:25px">T</text>
<text class="sub" x="300.0" y="243.5" textLength="27.6" lengthAdjust="spacingAndGlyphs">hyd</text>
<text class="sans" x="328.9" y="240.4" textLength="6.8" lengthAdjust="spacingAndGlyphs" style="font-size:24px;stroke-width:0.1px">/</text>
<text class="sans" x="335.7" y="239.8" textLength="14.8" lengthAdjust="spacingAndGlyphs">Λ</text>
<text class="sans" x="350.9" y="239.8" textLength="13.2" lengthAdjust="spacingAndGlyphs">=</text>
<text x="364.6" y="239.8" textLength="42" lengthAdjust="spacingAndGlyphs">0.25</text>
</g>
<g>
<text class="it" x="287.3" y="283.7" textLength="14.6" lengthAdjust="spacingAndGlyphs" style="font-size:25px">T</text>
<text class="sub" x="300.0" y="287.7" textLength="27.6" lengthAdjust="spacingAndGlyphs">hyd</text>
<text class="sans" x="328.9" y="284.6" textLength="6.8" lengthAdjust="spacingAndGlyphs" style="font-size:24px;stroke-width:0.1px">/</text>
<text class="sans" x="335.7" y="284.0" textLength="14.8" lengthAdjust="spacingAndGlyphs">Λ</text>
<text class="sans" x="350.9" y="284.0" textLength="13.2" lengthAdjust="spacingAndGlyphs">=</text>
<text x="364.6" y="284.0" textLength="42" lengthAdjust="spacingAndGlyphs">0.17</text>
</g>
<g transform="rotate(-90)">
<path d="M13.5,3.7 C12.6,1.6 10.2,0.3 7.3,0.3 C4.4,0.3 2.9,2.4 3.2,4.4 C3.6,6.6 6,7.7 8.8,7.8 C5,8 0.4,10.4 0.4,13.7 C0.4,16.5 3.4,18.2 7.3,18.2 C11.6,18.2 14.5,15.6 14.2,12.6 C14,10.9 13.6,10 13.1,9.5" transform="translate(-224.5,1.6) scale(1.0,0.95)" fill="none" stroke="#000" stroke-width="1.9" stroke-linecap="round"/>
<text class="sub" x="-208.7" y="22.0" textLength="22.8" lengthAdjust="spacingAndGlyphs">loc</text>
<line x1="-185.4" y1="18.6" x2="-180.5" y2="1.2" stroke="#000" stroke-width="1.4"/>
<path d="M13.5,3.7 C12.6,1.6 10.2,0.3 7.3,0.3 C4.4,0.3 2.9,2.4 3.2,4.4 C3.6,6.6 6,7.7 8.8,7.8 C5,8 0.4,10.4 0.4,13.7 C0.4,16.5 3.4,18.2 7.3,18.2 C11.6,18.2 14.5,15.6 14.2,12.6 C14,10.9 13.6,10 13.1,9.5" transform="translate(-179.0,1.6) scale(1.0,0.95)" fill="none" stroke="#000" stroke-width="1.9" stroke-linecap="round"/>
<text class="sub" x="-163.3" y="22.0" textLength="22.8" lengthAdjust="spacingAndGlyphs">loc</text>
<text x="-140.0" y="18.2" textLength="7.2" lengthAdjust="spacingAndGlyphs" style="font-size:26px;stroke-width:0">(</text>
<text x="-133.0" y="18.2" textLength="10.9" lengthAdjust="spacingAndGlyphs" style="font-size:25.5px">z</text>
<text class="sans" x="-121.2" y="19.0" textLength="12.2" lengthAdjust="spacingAndGlyphs" style="font-size:22px">=</text>
<text x="-108.5" y="18.2" textLength="11.8" lengthAdjust="spacingAndGlyphs" style="font-size:24.5px">0</text>
<text x="-96.0" y="18.2" textLength="7.2" lengthAdjust="spacingAndGlyphs" style="font-size:26px;stroke-width:0">)</text>
</g>
</g>
</svg>
</body></html>
